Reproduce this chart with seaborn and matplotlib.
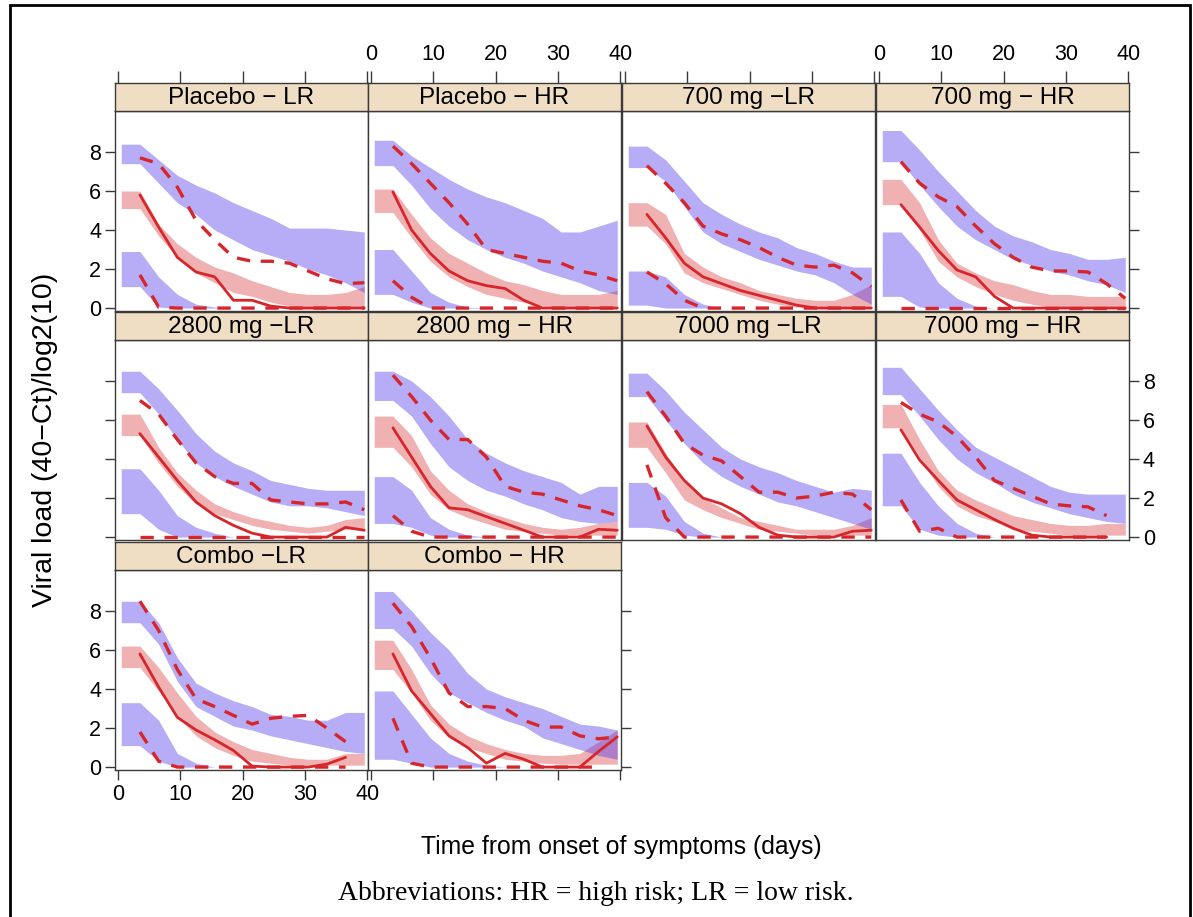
import matplotlib
matplotlib.use('Agg')
import matplotlib.pyplot as plt
from matplotlib.patches import Rectangle
import seaborn as sns
import numpy as np

nan = np.nan

# time bins (days from onset of symptoms)
days = [3.5, 6.5, 9.5, 12.5, 15.5, 18.5, 21.5, 24.5, 27.5, 30.5, 33.5, 36.5, 39.5]

panels = ['Placebo − LR', 'Placebo − HR', '700 mg −LR', '700 mg − HR',
          '2800 mg −LR', '2800 mg − HR', '7000 mg −LR', '7000 mg − HR',
          'Combo −LR', 'Combo − HR']

# prediction interval of the 95th percentile (upper blue band)
p95_hi = {
    'Placebo − LR': [8.4, 7.6, 6.8, 6.3, 5.9, 5.4, 5.0, 4.6, 4.1, 4.1, 4.1, 4.0, 3.9],
    'Placebo − HR': [8.6, 7.8, 7.2, 6.6, 6.1, 5.7, 5.4, 5.0, 4.6, 3.9, 3.9, 4.2, 4.5],
    '700 mg −LR': [8.3, 7.6, 6.5, 5.4, 4.8, 4.3, 3.9, 3.6, 3.1, 2.8, 2.4, 2.1, 2.1],
    '700 mg − HR': [9.1, 8.1, 7.0, 6.0, 5.0, 4.2, 3.7, 3.4, 3.0, 2.8, 2.5, 2.5, 2.6],
    '2800 mg −LR': [8.5, 7.6, 6.5, 5.3, 4.4, 3.8, 3.4, 2.9, 2.7, 2.5, 2.4, 2.4, 2.4],
    '2800 mg − HR': [8.5, 8.0, 7.2, 6.2, 5.0, 4.3, 3.8, 3.4, 3.1, 2.8, 2.2, 2.6, 2.6],
    '7000 mg −LR': [8.4, 7.5, 6.4, 5.5, 4.6, 4.0, 3.6, 3.3, 2.9, 2.6, 2.3, 2.5, 2.4],
    '7000 mg − HR': [8.7, 7.6, 6.5, 5.5, 4.6, 4.1, 3.6, 3.1, 2.6, 2.3, 2.2, 2.2, 2.2],
    'Combo −LR': [8.5, 7.4, 5.6, 4.3, 3.8, 3.4, 3.1, 2.7, 2.6, 2.4, 2.4, 2.8, 2.8],
    'Combo − HR': [9.0, 8.0, 6.9, 6.0, 4.8, 4.0, 3.6, 3.3, 3.0, 2.6, 2.2, 2.1, 1.9],
}
p95_lo = {
    'Placebo − LR': [7.4, 6.4, 5.4, 4.8, 4.0, 3.5, 3.0, 2.7, 2.4, 2.0, 1.7, 1.3, 0.8],
    'Placebo − HR': [7.3, 6.3, 5.1, 4.2, 3.5, 3.0, 2.6, 2.3, 1.9, 1.6, 1.3, 0.9, 0.7],
    '700 mg −LR': [7.2, 6.5, 5.2, 3.9, 3.3, 2.9, 2.5, 2.2, 1.9, 1.7, 1.3, 0.7, 0.2],
    '700 mg − HR': [7.5, 6.3, 5.2, 4.2, 3.5, 3.0, 2.5, 2.2, 1.9, 1.7, 1.4, 1.2, 0.8],
    '2800 mg −LR': [7.4, 6.3, 5.0, 3.8, 3.1, 2.6, 2.2, 1.8, 1.6, 1.6, 1.5, 1.3, 1.1],
    '2800 mg − HR': [7.0, 6.2, 4.8, 3.6, 2.9, 2.4, 2.1, 1.7, 1.4, 1.0, 0.8, 0.7, 0.8],
    '7000 mg −LR': [7.2, 6.0, 4.8, 3.8, 3.1, 2.6, 2.2, 1.8, 1.6, 1.3, 1.0, 0.7, 0.4],
    '7000 mg − HR': [7.3, 6.2, 5.0, 4.0, 3.3, 2.8, 2.2, 1.8, 1.5, 1.2, 1.0, 0.8, 0.7],
    'Combo −LR': [7.4, 6.3, 4.4, 3.1, 2.6, 2.1, 1.9, 1.6, 1.4, 1.2, 1.0, 0.8, 0.7],
    'Combo − HR': [7.1, 6.2, 4.8, 3.8, 3.3, 2.8, 2.4, 2.1, 1.5, 1.2, 0.9, 0.6, 0.4],
}

# prediction interval of the median (red band)
med_hi = {
    'Placebo − LR': [6.0, 4.3, 3.3, 2.6, 2.1, 1.8, 1.4, 1.1, 0.8, 0.7, 0.7, 0.8, 1.1],
    'Placebo − HR': [6.1, 4.8, 3.6, 2.8, 2.3, 1.8, 1.4, 1.2, 0.9, 0.7, 0.7, 0.7, 0.9],
    '700 mg −LR': [5.4, 4.8, 2.8, 2.1, 1.6, 1.3, 0.9, 0.7, 0.5, 0.4, 0.4, 0.7, 1.2],
    '700 mg − HR': [6.6, 5.4, 3.5, 2.3, 1.8, 1.4, 1.2, 0.9, 0.7, 0.7, 0.6, 0.6, 0.6],
    '2800 mg −LR': [6.3, 4.6, 3.3, 2.4, 1.7, 1.3, 1.0, 0.8, 0.6, 0.5, 0.6, 0.9, 1.0],
    '2800 mg − HR': [6.2, 5.2, 3.4, 2.4, 1.7, 1.3, 1.0, 0.7, 0.5, 0.4, 0.5, 0.7, 0.8],
    '7000 mg −LR': [5.9, 4.3, 2.9, 2.0, 1.5, 1.0, 0.8, 0.6, 0.4, 0.4, 0.4, 0.6, 1.0],
    '7000 mg − HR': [6.8, 5.0, 3.4, 2.4, 1.9, 1.5, 1.1, 0.9, 0.7, 0.6, 0.6, 0.7, 0.7],
    'Combo −LR': [6.2, 5.1, 3.8, 2.6, 1.8, 1.3, 0.9, 0.7, 0.5, 0.4, 0.4, 0.7, 0.7],
    'Combo − HR': [6.5, 5.0, 3.2, 2.2, 1.6, 1.2, 0.9, 0.7, 0.6, 0.6, 0.7, 1.3, 1.9],
}
med_lo = {
    'Placebo − LR': [5.1, 3.7, 2.6, 1.8, 1.3, 0.8, 0.6, 0.3, 0.1, 0.05, 0.05, 0.05, 0.05],
    'Placebo − HR': [4.9, 3.6, 2.4, 1.6, 1.1, 0.7, 0.5, 0.3, 0.1, 0.05, 0.05, 0.05, 0.05],
    '700 mg −LR': [4.2, 3.3, 1.8, 1.3, 1.0, 0.7, 0.4, 0.2, 0.05, 0.05, 0.05, 0.05, 0.05],
    '700 mg − HR': [5.3, 4.0, 2.4, 1.6, 1.1, 0.7, 0.4, 0.2, 0.05, 0.05, 0.05, 0.05, 0.05],
    '2800 mg −LR': [5.2, 3.8, 2.6, 1.7, 1.2, 0.9, 0.6, 0.4, 0.3, 0.2, 0.3, 0.4, 0.4],
    '2800 mg − HR': [4.6, 3.6, 2.2, 1.4, 1.0, 0.7, 0.4, 0.3, 0.2, 0.1, 0.1, 0.1, 0.1],
    '7000 mg −LR': [4.6, 3.3, 1.9, 1.4, 1.0, 0.7, 0.4, 0.3, 0.2, 0.1, 0.1, 0.1, 0.1],
    '7000 mg − HR': [5.6, 4.1, 2.6, 1.6, 1.1, 0.8, 0.4, 0.3, 0.2, 0.1, 0.1, 0.1, 0.1],
    'Combo −LR': [5.1, 3.9, 2.6, 1.6, 1.0, 0.6, 0.3, 0.2, 0.1, 0.1, 0.1, 0.1, 0.1],
    'Combo − HR': [5.0, 3.8, 2.4, 1.5, 1.0, 0.7, 0.4, 0.3, 0.2, 0.15, 0.15, 0.15, 0.15],
}

# prediction interval of the 5th percentile (lower blue band)
p5_hi = {
    'Placebo − LR': [2.9, 1.6, 0.7, 0.2, 0.05, 0, 0, 0, 0, 0, 0, 0, 0],
    'Placebo − HR': [3.0, 1.9, 0.8, 0.3, 0.05, 0, 0, 0, 0, 0, 0, 0, 0],
    '700 mg −LR': [1.9, 1.6, 0.7, 0.2, 0, 0, 0, 0, 0, 0, 0, 0, 0],
    '700 mg − HR': [3.9, 2.8, 1.3, 0.5, 0.1, 0, 0, 0, 0, 0, 0, 0, 0],
    '2800 mg −LR': [3.5, 2.4, 1.1, 0.5, 0.2, 0, 0, 0, 0, 0, 0, 0, 0],
    '2800 mg − HR': [3.1, 2.4, 1.0, 0.4, 0.1, 0, 0, 0, 0, 0, 0, 0, 0],
    '7000 mg −LR': [2.8, 2.1, 0.8, 0.2, 0, 0, 0, 0, 0, 0, 0, 0, 0],
    '7000 mg − HR': [4.3, 2.8, 1.6, 0.7, 0.2, 0, 0, 0, 0, 0, 0, 0, 0],
    'Combo −LR': [3.3, 2.4, 0.7, 0.2, 0, 0, 0, 0, 0, 0, 0, 0, 0],
    'Combo − HR': [3.9, 2.7, 1.5, 0.7, 0.3, 0.1, 0, 0, 0, 0, 0, 0, 0],
}
p5_lo = {
    'Placebo − LR': [1.1, 0.05, 0, 0, 0, 0, 0, 0, 0, 0, 0, 0, 0],
    'Placebo − HR': [0.7, 0.3, 0, 0, 0, 0, 0, 0, 0, 0, 0, 0, 0],
    '700 mg −LR': [0.15, 0, 0, 0, 0, 0, 0, 0, 0, 0, 0, 0, 0],
    '700 mg − HR': [0.6, 0.05, 0, 0, 0, 0, 0, 0, 0, 0, 0, 0, 0],
    '2800 mg −LR': [1.2, 0.4, 0, 0, 0, 0, 0, 0, 0, 0, 0, 0, 0],
    '2800 mg − HR': [0.7, 0.5, 0.1, 0, 0, 0, 0, 0, 0, 0, 0, 0, 0],
    '7000 mg −LR': [0.5, 0.4, 0.1, 0, 0, 0, 0, 0, 0, 0, 0, 0, 0],
    '7000 mg − HR': [1.6, 0.4, 0.1, 0, 0, 0, 0, 0, 0, 0, 0, 0, 0],
    'Combo −LR': [1.1, 0.3, 0, 0, 0, 0, 0, 0, 0, 0, 0, 0, 0],
    'Combo − HR': [0.4, 0.2, 0, 0, 0, 0, 0, 0, 0, 0, 0, 0, 0],
}

# observed percentiles (lines)
obs_p95 = {
    'Placebo − LR': [7.7, 7.4, 6.2, 4.5, 3.5, 2.6, 2.4, 2.4, 2.3, 1.9, 1.5, 1.25, 1.3],
    'Placebo − HR': [8.3, 7.4, 6.4, 5.4, 4.3, 3.0, 2.8, 2.6, 2.4, 2.3, 1.9, 1.7, 1.4],
    '700 mg −LR': [7.3, 6.4, 5.4, 4.2, 3.8, 3.5, 3.1, 2.6, 2.2, 2.1, 2.2, 1.8, 1.1],
    '700 mg − HR': [7.5, 6.4, 5.7, 5.2, 4.2, 3.3, 2.6, 2.1, 1.9, 1.9, 1.85, 1.25, 0.5],
    '2800 mg −LR': [7.0, 6.3, 5.0, 3.8, 3.1, 2.75, 2.75, 1.9, 1.8, 1.7, 1.7, 1.8, 1.4],
    '2800 mg − HR': [8.3, 7.2, 6.0, 5.0, 5.0, 4.1, 2.6, 2.3, 2.2, 1.9, 1.6, 1.4, 1.1],
    '7000 mg −LR': [7.45, 6.2, 4.8, 4.2, 3.9, 3.1, 2.3, 2.3, 2.0, 2.1, 2.3, 2.2, 1.4],
    '7000 mg − HR': [6.9, 6.3, 5.9, 5.15, 4.1, 2.9, 2.5, 2.1, 1.7, 1.6, 1.55, 1.1, nan],
    'Combo −LR': [8.5, 7.0, 5.0, 3.5, 3.1, 2.65, 2.2, 2.5, 2.6, 2.65, 2.0, 1.3, nan],
    'Combo − HR': [8.4, 7.2, 5.6, 3.8, 3.1, 3.1, 3.0, 2.4, 2.05, 2.05, 1.6, 1.45, 1.55],
}
obs_med = {
    'Placebo − LR': [5.8, 4.15, 2.6, 1.85, 1.6, 0.4, 0.4, 0.1, 0, 0, 0, 0, 0],
    'Placebo − HR': [5.95, 4.0, 2.8, 1.9, 1.4, 1.15, 1.0, 0.4, 0, 0, 0, 0, 0],
    '700 mg −LR': [4.8, 3.6, 2.3, 1.6, 1.25, 0.9, 0.65, 0.4, 0.15, 0, 0, 0, 0],
    '700 mg − HR': [5.3, 4.15, 2.95, 1.95, 1.6, 0.6, 0, 0, 0, 0, 0, 0, 0],
    '2800 mg −LR': [5.3, 4.1, 2.9, 1.8, 1.1, 0.6, 0.2, 0, 0, 0, 0, 0.5, 0.35],
    '2800 mg − HR': [5.6, 4.1, 2.6, 1.5, 1.4, 1.05, 0.7, 0.35, 0, 0, 0, 0.4, 0.35],
    '7000 mg −LR': [5.7, 4.1, 2.9, 2.0, 1.7, 1.2, 0.5, 0.1, 0, 0, 0, 0.3, 0.35],
    '7000 mg − HR': [5.5, 3.95, 2.9, 1.9, 1.4, 0.9, 0.45, 0.1, 0, 0, 0, 0, nan],
    'Combo −LR': [5.8, 4.1, 2.55, 1.9, 1.4, 0.85, 0.05, 0, 0, 0, 0.15, 0.5, nan],
    'Combo − HR': [5.8, 3.9, 2.75, 1.6, 1.0, 0.2, 0.7, 0.4, 0, 0, 0, 0.8, 1.55],
}
obs_p5 = {
    'Placebo − LR': [1.7, 0.05, 0, 0, 0, 0, 0, 0, 0, 0, 0, 0, 0],
    'Placebo − HR': [1.4, 0.55, 0, 0, 0, 0, 0, 0, 0, 0, 0, 0, 0],
    '700 mg −LR': [1.85, 1.25, 0.4, 0, 0, 0, 0, 0, 0, 0, 0, 0, 0],
    '700 mg − HR': [0, 0, 0, 0, 0, 0, 0, 0, 0, 0, 0, 0, 0],
    '2800 mg −LR': [0, 0, 0, 0, 0, 0, 0, 0, 0, 0, 0, 0, 0],
    '2800 mg − HR': [1.1, 0.3, 0, 0, 0, 0, 0, 0, 0, 0, 0, 0, 0],
    '7000 mg −LR': [3.7, 1.0, 0, 0, 0, 0, 0, 0, 0, 0, 0, 0, 0],
    '7000 mg − HR': [1.9, 0.3, 0.45, 0, 0, 0, 0, 0, 0, 0, 0, 0, nan],
    'Combo −LR': [1.8, 0.3, 0, 0, 0, 0, 0, 0, 0, 0, 0, 0, nan],
    'Combo − HR': [2.5, 0.2, 0, 0, 0, 0, 0, 0, 0, 0, 0, 0, nan],
}

x_ticks = [0, 10, 20, 30, 40]
y_ticks = [0, 2, 4, 6, 8]

BLUE = '#5539EA'
PINK = '#DA4646'
RED = '#D7262B'
STRIP = '#F0DEC4'
EDGE = '#3a3a3a'

sns.set_theme(style='white')
plt.rcParams['font.family'] = ['Liberation Sans', 'DejaVu Sans']
plt.rcParams['text.color'] = 'black'

W, H = 1193, 917
fig = plt.figure(figsize=(W / 100, H / 100), dpi=100)


def rect(x0, y0, w, h):
    return [x0 / W, 1 - (y0 + h) / H, w / W, h / H]


col_x = [115, 368, 622, 876]
row_y = [111, 340, 570]
pw, ph, sh = 253, 200, 28
last_col = {0: 3, 1: 3, 2: 1}
band_x = [0.5] + days

for i, name in enumerate(panels):
    r, c = divmod(i, 4)
    ax = fig.add_axes(rect(col_x[c], row_y[r], pw, ph))
    sax = fig.add_axes(rect(col_x[c], row_y[r] - sh, pw, sh))

    def fill(lo, hi, color):
        lo = [lo[0]] + lo
        hi = [hi[0]] + hi
        ax.fill_between(band_x, lo, hi, color=color, alpha=0.42, lw=0)

    fill(med_lo[name], med_hi[name], PINK)
    fill(p95_lo[name], p95_hi[name], BLUE)
    fill(p5_lo[name], p5_hi[name], BLUE)

    sns.lineplot(x=days, y=obs_med[name], ax=ax, color=RED, lw=2.0)
    sns.lineplot(x=days, y=obs_p95[name], ax=ax, color=RED, lw=2.4,
                 linestyle=(0, (4, 3.2)))
    sns.lineplot(x=days, y=obs_p5[name], ax=ax, color=RED, lw=2.4,
                 linestyle=(0, (4, 3.2)))

    ax.set_xlim(-0.5, 40.1)
    ax.set_ylim(-0.15, 10.1)
    ax.set_xticks(x_ticks)
    ax.set_yticks(y_ticks)
    ax.set_xlabel('')
    ax.set_ylabel('')
    ax.tick_params(direction='out', length=7, width=1, color=EDGE,
                   labelcolor='black', labelsize=15.5, pad=3,
                   left=(c == 0), labelleft=(c == 0 and r != 1),
                   right=(c == last_col[r]), labelright=(c == last_col[r] and r == 1),
                   bottom=(r == 2), labelbottom=(r == 2 and c == 0),
                   top=False, labeltop=False)
    for s in ax.spines.values():
        s.set_color(EDGE)
        s.set_linewidth(1)

    # strip with the panel label; the top axis sits above the strips
    sax.set_facecolor(STRIP)
    sax.set_xlim(-0.5, 40.1)
    sax.set_ylim(0, 1)
    sax.set_xticks(x_ticks)
    sax.set_yticks([])
    sax.xaxis.tick_top()
    sax.tick_params(direction='out', length=9, width=1, color=EDGE,
                    labelcolor='black', labelsize=15.5, pad=4,
                    top=(r == 0), labeltop=(r == 0 and c in (1, 3)),
                    bottom=False, labelbottom=False, left=False, right=False)
    for s in sax.spines.values():
        s.set_color(EDGE)
        s.set_linewidth(1)
    sax.text(0.5, 0.45, name, transform=sax.transAxes, ha='center',
             va='center', fontsize=17.5, color='black')

fig.text(45 / W, 1 - 440 / H, 'Viral load (40−Ct)/log2(10)', rotation=90,
         ha='center', va='center', fontsize=20.5, color='black')
fig.text(621 / W, 1 - 847 / H, 'Time from onset of symptoms (days)',
         ha='center', va='center', fontsize=17.8, color='black')
fig.text(596 / W, 1 - 893 / H, 'Abbreviations: HR = high risk; LR = low risk.',
         ha='center', va='center', fontsize=20, family='Liberation Serif',
         color='black')

# outer frame of the figure box
fig.patches.append(Rectangle((10 / W, -0.05), 1180 / W, 1 - 5 / H + 0.05,
                             transform=fig.transFigure, fill=False,
                             lw=2, edgecolor='black'))

fig.savefig('out.png', dpi=100)
